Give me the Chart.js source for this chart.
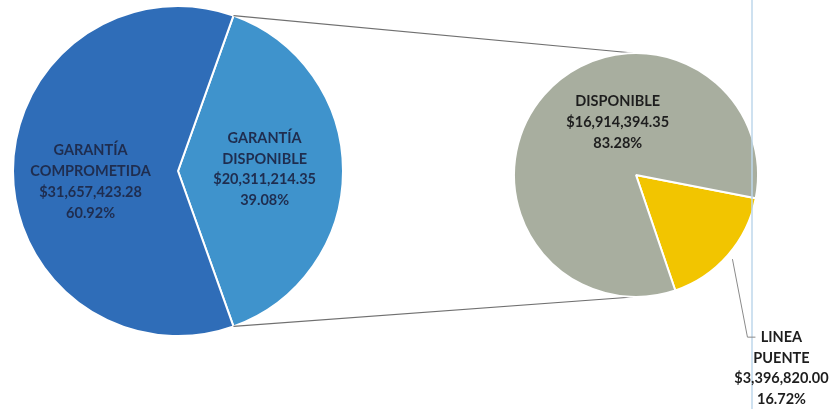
<!DOCTYPE html>
<html>
<head>
<meta charset="utf-8">
<script src="https://cdn.jsdelivr.net/npm/chart.js@4.4.0/dist/chart.umd.min.js"></script>
<style>
  html, body { margin: 0; padding: 0; background: #ffffff; }
  #wrap { position: relative; width: 832px; height: 409px; }
  #wrap canvas { position: absolute; left: 0; top: 0; }
</style>
</head>
<body>
<div id="wrap">
  <canvas id="mainPie" width="832" height="409"></canvas>
  <canvas id="subPie" width="832" height="409"></canvas>
</div>
<script>
// main pie: light slice first so it sits on the right side
const mainLabels = ['GARANTÍA\nDISPONIBLE', 'GARANTÍA\nCOMPROMETIDA'];
const mainValues = [20311214.35, 31657423.28];
const mainPercents = ['39.08%', '60.92%'];

// secondary pie (split of the available guarantee)
const subLabels = ['LINEA\nPUENTE', 'DISPONIBLE'];
const subValues = [3396820.00, 16914394.35];
const subPercents = ['16.72%', '83.28%'];

const money = v => '$' + v.toLocaleString('en-US', { minimumFractionDigits: 2, maximumFractionDigits: 2 });
const labelFont = 'bold 14.5px Lato, "Open Sans", sans-serif';
const lineH = 20.8;

function drawLines(ctx, lines, x, y, color) {
  ctx.save();
  ctx.font = labelFont;
  ctx.fillStyle = color;
  ctx.textAlign = 'center';
  ctx.textBaseline = 'middle';
  const top = y - (lines.length - 1) * lineH / 2;
  lines.forEach((t, i) => ctx.fillText(t, x, top + i * lineH));
  ctx.restore();
}

function sliceLines(labels, values, percents, i) {
  return labels[i].split('\n').concat([money(values[i]), percents[i]]);
}

// label spots inside the main pie, in radius units from the centre
const mainSpots = [[0.525, -0.01], [-0.53, 0.065]];

const mainLabelPlugin = {
  id: 'mainLabels',
  afterDatasetsDraw(chart) {
    const ctx = chart.ctx;
    chart.getDatasetMeta(0).data.forEach((arc, i) => {
      const r = arc.outerRadius;
      drawLines(ctx, sliceLines(mainLabels, mainValues, mainPercents, i),
        arc.x + mainSpots[i][0] * r, arc.y + mainSpots[i][1] * r, '#1f2d4f');
    });
  }
};

const mainChart = new Chart(document.getElementById('mainPie'), {
  type: 'pie',
  data: {
    labels: mainLabels,
    datasets: [{
      data: mainValues,
      backgroundColor: ['#3f93cc', '#2f6db8'],
      borderColor: '#ffffff',
      borderWidth: 2
    }]
  },
  options: {
    responsive: false,
    animation: false,
    rotation: 19.65,
    layout: { padding: { left: 12, top: 5, right: 488, bottom: 72 } },
    plugins: { legend: { display: false }, tooltip: { enabled: false } }
  },
  plugins: [mainLabelPlugin]
});

const subLabelPlugin = {
  id: 'subLabels',
  beforeDatasetsDraw(chart) {
    // connector lines from the light slice of the main pie to the sub pie
    const ctx = chart.ctx;
    const src = mainChart.getDatasetMeta(0).data[0];
    const dst = chart.getDatasetMeta(0).data[0];
    const ends = [
      [src.startAngle, -Math.PI / 2],
      [src.endAngle, Math.PI / 2]
    ];
    ctx.save();
    ctx.strokeStyle = '#707070';
    ctx.lineWidth = 1.2;
    ends.forEach(([a, b]) => {
      ctx.beginPath();
      ctx.moveTo(src.x + src.outerRadius * Math.cos(a), src.y + src.outerRadius * Math.sin(a));
      ctx.lineTo(dst.x - 3 + dst.outerRadius * Math.cos(b), dst.y + dst.outerRadius * Math.sin(b));
      ctx.stroke();
    });
    ctx.restore();
  },
  afterDatasetsDraw(chart) {
    const ctx = chart.ctx;
    const arcs = chart.getDatasetMeta(0).data;

    // faint vertical rule from the scanned page
    ctx.save();
    ctx.strokeStyle = 'rgba(190, 215, 235, 0.75)';
    ctx.lineWidth = 2;
    ctx.beginPath();
    ctx.moveTo(752, 0);
    ctx.lineTo(752, 409);
    ctx.stroke();
    ctx.restore();

    // DISPONIBLE label inside the grey slice
    const g = arcs[1];
    drawLines(ctx, sliceLines(subLabels, subValues, subPercents, 1),
      g.x - 0.15 * g.outerRadius, g.y - 0.43 * g.outerRadius, '#1e1e1e');

    // LINEA PUENTE label with a leader line outside the pie
    const y = arcs[0];
    const mid = (y.startAngle + y.endAngle) / 2;
    const sx = y.x + (y.outerRadius + 6) * Math.cos(mid);
    const sy = y.y + (y.outerRadius + 6) * Math.sin(mid);
    const ex = sx + 15, ey = sy + 78;
    ctx.save();
    ctx.strokeStyle = '#8a8a8a';
    ctx.lineWidth = 1;
    ctx.beginPath();
    ctx.moveTo(sx, sy);
    ctx.lineTo(ex, ey);
    ctx.lineTo(ex + 8, ey);
    ctx.stroke();
    ctx.restore();
    drawLines(ctx, sliceLines(subLabels, subValues, subPercents, 0),
      ex + 34, ey + 1.5 * lineH, '#1e1e1e');
  }
};

new Chart(document.getElementById('subPie'), {
  type: 'pie',
  data: {
    labels: subLabels,
    datasets: [{
      data: subValues,
      backgroundColor: ['#f2c500', '#a8ae9f'],
      borderColor: '#ffffff',
      borderWidth: 2
    }]
  },
  options: {
    responsive: false,
    animation: false,
    rotation: 101,
    layout: { padding: { left: 512, top: 52, right: 72, bottom: 111 } },
    plugins: { legend: { display: false }, tooltip: { enabled: false } }
  },
  plugins: [subLabelPlugin]
});
</script>
</body>
</html>
